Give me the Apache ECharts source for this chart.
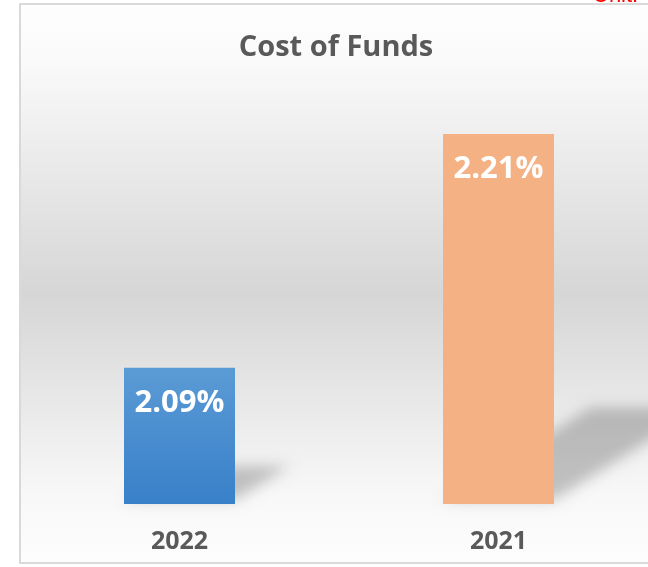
<!DOCTYPE html>
<html>
<head>
<meta charset="utf-8">
<script src="https://cdn.jsdelivr.net/npm/echarts@6/dist/echarts.min.js"></script>
<style>html,body{margin:0;padding:0;background:#fff;overflow:hidden}#c{width:648px;height:567px}</style>
</head>
<body>
<div id="c"></div>
<script>
const categories = ['2022', '2021'];
const values = [2.09, 2.21];
const barColors = ['blue', 'orange'];
const titleText = 'Cost of Funds';
const unitText = 'Unit: %';

const chart = echarts.init(document.getElementById('c'), null, {renderer: 'canvas'});
const blueGrad = new echarts.graphic.LinearGradient(0, 0, 0, 1, [
  {offset: 0, color: '#5b9bd5'}, {offset: 1, color: '#3880c9'}
]);
const colorMap = {blue: blueGrad, orange: '#f4b183'};
const FONT = '"Open Sans", Lato, sans-serif';

chart.setOption({
  animation: false,
  graphic: [
    {
      type: 'rect', z: -10,
      shape: {x: 20, y: 4, width: 640, height: 559},
      style: {
        fill: new echarts.graphic.LinearGradient(0, 0, 0, 1, [
          {offset: 0, color: '#fefefe'},
          {offset: 0.1, color: '#fafafa'},
          {offset: 0.52, color: '#d6d6d6'},
          {offset: 0.88, color: '#f8f8f8'},
          {offset: 1, color: '#fdfdfd'}
        ])
      }
    },
    {
      type: 'polyline', z: -9,
      shape: {points: [[660, 4], [20, 4], [20, 563], [660, 563]]},
      style: {stroke: '#d9d9d9', lineWidth: 2, fill: null}
    },
    {
      type: 'text', z: 10,
      style: {x: 593, y: 7, text: unitText, fill: '#ff0000', verticalAlign: 'bottom',
        font: '22px "Liberation Sans", Arial, sans-serif'}
    }
  ],
  title: {
    text: titleText, left: 331, top: 28, textAlign: 'center',
    textStyle: {color: '#595959', fontSize: 29, fontWeight: 'bold', fontFamily: FONT}
  },
  grid: {left: 20, width: 638, top: 95, bottom: 63, outerBoundsMode: 'none', containLabel: false},
  xAxis: {
    type: 'category', data: categories,
    axisLine: {show: false}, axisTick: {show: false}, splitLine: {show: false},
    axisLabel: {color: '#595959', fontSize: 25, fontWeight: 'bold', fontFamily: FONT, margin: 25}
  },
  yAxis: {type: 'value', min: 2.02, max: 2.23, show: false, splitLine: {show: false}},
  series: [
    {
      type: 'custom', z: 1, clip: false,
      renderItem: function (params, api) {
        const idx = api.value(0);
        const top = api.coord([idx, api.value(1)]);
        const bottom = api.coord([idx, 2.02]);
        const w = api.size([1, 0])[0] * 111 / 319;
        const h = bottom[1] - top[1];
        const off = 2000;
        const x0 = top[0] - w / 2 - off, x1 = top[0] + w / 2 - off, yb = bottom[1] - 4;
        const dx = 0.4 * h, dy = -0.25 * h;
        return {
          type: 'polygon',
          shape: {points: [[x0, yb], [x1, yb], [x1 + dx, yb + dy], [x0 + dx, yb + dy]]},
          style: {fill: '#000', shadowBlur: 14, shadowOffsetX: off, shadowOffsetY: 0, shadowColor: 'rgba(0,0,0,0.22)'}
        };
      },
      data: values.map((v, i) => [i, v]),
      encode: {x: 0, y: 1}
    },
    {
      type: 'bar', z: 2,
      barWidth: 111,
      data: values.map((v, i) => ({value: v, itemStyle: {color: colorMap[barColors[i]]}})),
      label: {
        show: true, position: 'insideTop', distance: 20,
        formatter: p => p.value.toFixed(2) + '%',
        color: '#ffffff', fontSize: 31, fontWeight: 'bold', fontFamily: FONT
      }
    }
  ]
});
</script>
</body>
</html>
